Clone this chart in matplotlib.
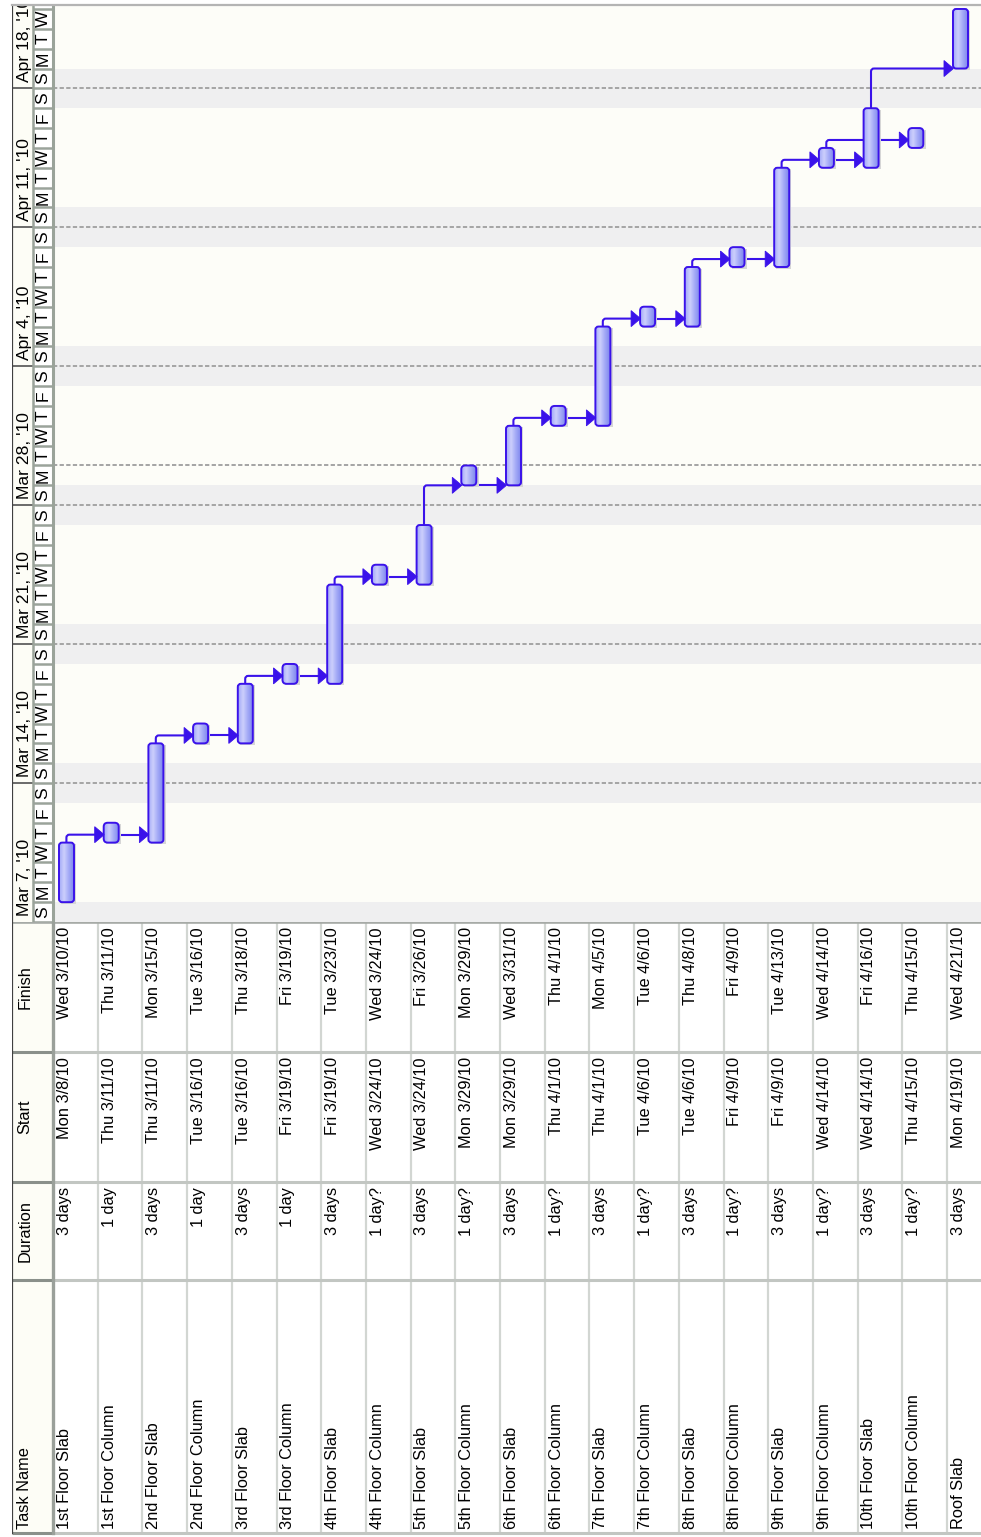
import datetime as dt

import matplotlib
matplotlib.use("Agg")
import matplotlib.pyplot as plt
import numpy as np
from matplotlib.patches import Rectangle, FancyBboxPatch, Polygon, PathPatch
from matplotlib.path import Path

plt.rcParams["font.family"] = ["Liberation Sans", "DejaVu Sans"]

# ---------------------------------------------------------------- data
task_names = [
    "1st Floor Slab", "1st Floor Column", "2nd Floor Slab", "2nd Floor Column",
    "3rd Floor Slab", "3rd Floor Column", "4th Floor Slab", "4th Floor Column",
    "5th Floor Slab", "5th Floor Column", "6th Floor Slab", "6th Floor Column",
    "7th Floor Slab", "7th Floor Column", "8th Floor Slab", "8th Floor Column",
    "9th Floor Slab", "9th Floor Column", "10th Floor Slab", "10th Floor Column",
    "Roof Slab",
]
durations = [
    "3 days", "1 day", "3 days", "1 day", "3 days", "1 day", "3 days", "1 day?",
    "3 days", "1 day?", "3 days", "1 day?", "3 days", "1 day?", "3 days", "1 day?",
    "3 days", "1 day?", "3 days", "1 day?", "3 days",
]
start_labels = [
    "Mon 3/8/10", "Thu 3/11/10", "Thu 3/11/10", "Tue 3/16/10", "Tue 3/16/10",
    "Fri 3/19/10", "Fri 3/19/10", "Wed 3/24/10", "Wed 3/24/10", "Mon 3/29/10",
    "Mon 3/29/10", "Thu 4/1/10", "Thu 4/1/10", "Tue 4/6/10", "Tue 4/6/10",
    "Fri 4/9/10", "Fri 4/9/10", "Wed 4/14/10", "Wed 4/14/10", "Thu 4/15/10",
    "Mon 4/19/10",
]
finish_labels = [
    "Wed 3/10/10", "Thu 3/11/10", "Mon 3/15/10", "Tue 3/16/10", "Thu 3/18/10",
    "Fri 3/19/10", "Tue 3/23/10", "Wed 3/24/10", "Fri 3/26/10", "Mon 3/29/10",
    "Wed 3/31/10", "Thu 4/1/10", "Mon 4/5/10", "Tue 4/6/10", "Thu 4/8/10",
    "Fri 4/9/10", "Tue 4/13/10", "Wed 4/14/10", "Fri 4/16/10", "Thu 4/15/10",
    "Wed 4/21/10",
]
predecessors = [None, 0, 1, 2, 3, 4, 5, 6, 7, 8, 9, 10, 11, 12, 13, 14, 15,
                16, 17, 17, 18]
timeline_start = "3/7/10"
status_date = "3/30/10"
visible_days = 46.2

# ---------------------------------------------------------------- helpers
def parse(label):
    return dt.datetime.strptime(label.split()[-1], "%m/%d/%y").date()

t0 = parse(timeline_start)
starts = np.array([(parse(s) - t0).days for s in start_labels], dtype=float)
ends = np.array([(parse(f) - t0).days + 1 for f in finish_labels], dtype=float)
status = (parse(status_date) - t0).days
n_tasks = len(task_names)

# layout (in row units: one task row = 1.0 across the page)
W_PX, H_PX = 981, 1537
ROW_PX = 44.7
DAY_PX = 19.85
LEFT_PX, ROW0_PX, TOP_PX, SPLIT_PX = 12, 53, 5, 922
x_left = -(ROW0_PX - LEFT_PX) / ROW_PX
x_right = (W_PX - ROW0_PX) / ROW_PX
x_tier = -(ROW0_PX - 33) / ROW_PX

BAR_X0, BAR_X1 = 0.134, 0.47
LINK_C = "#3a12ea"
TXT_FS = 11.8
SCALE_FS = 12.6

fig = plt.figure(figsize=(W_PX / 100, H_PX / 100), dpi=100)
fig.patch.set_facecolor("white")

ax = fig.add_axes([LEFT_PX / W_PX, (H_PX - SPLIT_PX) / H_PX,
                   (W_PX - LEFT_PX) / W_PX, (SPLIT_PX - TOP_PX) / H_PX])
tb = fig.add_axes([LEFT_PX / W_PX, 0, (W_PX - LEFT_PX) / W_PX,
                   (H_PX - SPLIT_PX) / H_PX])
for a in (ax, tb):
    a.set_xticks([])
    a.set_yticks([])
    for s in a.spines.values():
        s.set_visible(False)
    a.set_facecolor("none")

# ---------------------------------------------------------------- gantt background
ax.add_patch(Rectangle((0, 0), x_right + 1, visible_days + 1,
                       facecolor="#fdfdf8", edgecolor="none", zorder=0))
n_days = int(np.ceil(visible_days)) + 1
for d in range(n_days):
    day = t0 + dt.timedelta(days=d)
    if day.weekday() >= 5:
        ax.add_patch(Rectangle((0, d), x_right + 1, 1, facecolor="#efeff0",
                               edgecolor="none", zorder=0.5))
    if day.weekday() == 6 and d > 0:
        ax.plot([0, x_right + 1], [d, d], color="#a4a4a4", lw=1.4,
                ls=(0, (2.2, 1.2)), zorder=1)
ax.plot([0, x_right + 1], [status, status], color="#a4a4a4", lw=1.4,
        ls=(0, (2.2, 1.2)), zorder=1)

# ---------------------------------------------------------------- timescale header
ax.add_patch(Rectangle((x_left, 0), x_tier - x_left, visible_days + 1,
                       facecolor="#fdfdf6", edgecolor="none", zorder=1))
ax.add_patch(Rectangle((x_tier, 0), -x_tier, visible_days + 1,
                       facecolor="white", edgecolor="none", zorder=1))
for d in range(n_days):
    day = t0 + dt.timedelta(days=d)
    ax.plot([x_tier, 0], [d, d], color="#9aa39a", lw=1.8, zorder=2,
            solid_capstyle="butt")
    if d + 0.5 < visible_days:
        ax.text(x_tier / 2, d + 0.5, "MTWTFSS"[day.weekday()], rotation=90,
                ha="center", va="center", fontsize=SCALE_FS, color="black",
                zorder=3, clip_on=True)
    if day.weekday() == 6:
        if d > 0:
            ax.plot([x_left, x_tier], [d, d], color="#6a6a6a", lw=1.4, zorder=2)
        ax.text(-0.64, d + 0.3, f"{day:%b} {day.day}, '{day:%y}", rotation=90,
                ha="center", va="bottom", fontsize=SCALE_FS, color="black",
                zorder=3, clip_on=True)
ax.axvline(x_tier, color="#9aa39a", lw=1.8, zorder=2)
ax.axvline(0, color="#9aa39a", lw=2.2, zorder=2)
ax.axvline(x_left, color="#404040", lw=1.6, zorder=4)
ax.plot([x_left, x_right + 1], [visible_days, visible_days], color="#b4b4b4",
        lw=1.6, zorder=4, clip_on=False)

# ---------------------------------------------------------------- dependency links
rx, ry = 3 / ROW_PX, 3 / DAY_PX
tri_w, tri_h = 9 / ROW_PX, 8 / DAY_PX
levels = {}
for j, p in enumerate(predecessors):
    if p is None:
        continue
    if ends[p] <= starts[j] + 1e-9:
        levels[j] = max(starts[j], ends[p] + 0.4)
    else:
        levels[j] = levels[p]
    lvl = levels[j]
    xa = p + 0.30
    xb = j + BAR_X0
    if lvl > ends[p] + 1e-9:
        verts = [(xa, ends[p]), (xa, lvl - ry), (xa, lvl), (xa + rx, lvl),
                 (xb - 0.05, lvl)]
        codes = [Path.MOVETO, Path.LINETO, Path.CURVE3, Path.CURVE3, Path.LINETO]
    else:
        verts = [(xa, lvl), (xb - 0.05, lvl)]
        codes = [Path.MOVETO, Path.LINETO]
    ax.add_patch(PathPatch(Path(verts, codes), fill=False, edgecolor=LINK_C,
                           lw=1.5, zorder=2.2, capstyle="round"))
    ax.add_patch(Polygon([(xb + 0.01, lvl), (xb - tri_w, lvl + tri_h),
                          (xb - tri_w, lvl - tri_h)], closed=True,
                         facecolor=LINK_C, edgecolor=LINK_C, lw=0.6, zorder=5))

# ---------------------------------------------------------------- task bars
stops = np.array([0.0, 0.32, 0.6, 1.0])
cols = np.array([[0xa2, 0xa9, 0xf7], [0xcc, 0xcf, 0xfc],
                 [0xa6, 0xac, 0xf7], [0x76, 0x7f, 0xec]]) / 255.0
xs = np.linspace(0, 1, 64)
grad = np.stack([np.interp(xs, stops, cols[:, c]) for c in range(3)], axis=-1)
grad = grad[np.newaxis, :, :]

aspect = ROW_PX / DAY_PX
for k in range(n_tasks):
    x0, x1 = k + BAR_X0, k + BAR_X1
    y0, y1 = starts[k], ends[k]
    rs = 0.09 if (y1 - y0) <= 1 else 0.07
    ax.add_patch(Rectangle((x0 + 0.05, y0 - 0.08), x1 - x0, y1 - y0,
                           facecolor="#d6d6d6", edgecolor="none", zorder=2.5))
    shape = FancyBboxPatch((x0, y0), x1 - x0, y1 - y0,
                           boxstyle=f"round,pad=0,rounding_size={rs}",
                           mutation_aspect=aspect, facecolor="none",
                           edgecolor="none", zorder=3)
    ax.add_patch(shape)
    im = ax.imshow(grad, extent=(x0, x1, y0, y1), aspect="auto",
                   interpolation="bilinear", zorder=3)
    im.set_clip_path(shape)
    ax.add_patch(FancyBboxPatch((x0, y0), x1 - x0, y1 - y0,
                                boxstyle=f"round,pad=0,rounding_size={rs}",
                                mutation_aspect=aspect, facecolor="none",
                                edgecolor=LINK_C, lw=1.4, zorder=4))

ax.set_xlim(x_left, x_right)
ax.set_ylim(0, visible_days)

# ---------------------------------------------------------------- table
tb.set_xlim(x_left, x_right)
tb.set_ylim(H_PX, SPLIT_PX)

col_edges = [SPLIT_PX, 1052, 1182, 1280, 1533]
tb.add_patch(Rectangle((x_left, SPLIT_PX), -x_left, 1533 - SPLIT_PX,
                       facecolor="#fdfdf6", edgecolor="none", zorder=0))
tb.add_patch(Rectangle((0, SPLIT_PX), x_right + 1, 1533 - SPLIT_PX,
                       facecolor="white", edgecolor="none", zorder=0))
for k in range(1, n_tasks + 1):
    tb.plot([k, k], [SPLIT_PX, 1533], color="#d2d6d2", lw=1.6, zorder=1,
            solid_capstyle="butt")
for i, yv in enumerate(col_edges):
    lw = 2.6 if i == 0 else 2.2
    tb.plot([0, x_right + 1], [yv, yv], color="#c2c6c2" if i else "#a6aaa6",
            lw=lw, zorder=2, solid_capstyle="butt")
    tb.plot([x_left, 0], [yv, yv], color="#8a908a" if i else "#a6aaa6",
            lw=lw, zorder=2, solid_capstyle="butt")
tb.plot([0, 0], [SPLIT_PX, 1533], color="#9aa09a", lw=2.4, zorder=2)
tb.plot([x_left, x_left], [SPLIT_PX - 2, 1533], color="#404040", lw=1.6, zorder=3)

hx = -0.63
tb.text(hx, 987, "Finish", rotation=90, ha="center", va="center", fontsize=TXT_FS)
tb.text(hx, 1117, "Start", rotation=90, ha="center", va="center", fontsize=TXT_FS)
tb.text(hx, 1231, "Duration", rotation=90, ha="center", va="center", fontsize=TXT_FS)
tb.text(hx, 1529, "Task Name", rotation=90, ha="center", va="bottom", fontsize=TXT_FS)

for k in range(n_tasks):
    cx = k + 0.255
    tb.text(cx, 927, finish_labels[k], rotation=90, ha="center", va="top",
            fontsize=TXT_FS)
    tb.text(cx, 1057, start_labels[k], rotation=90, ha="center", va="top",
            fontsize=TXT_FS)
    tb.text(cx, 1187, durations[k], rotation=90, ha="center", va="top",
            fontsize=TXT_FS)
    tb.text(cx, 1529, task_names[k], rotation=90, ha="center", va="bottom",
            fontsize=TXT_FS, clip_on=True)

fig.savefig("out.png", dpi=100, facecolor="white")
